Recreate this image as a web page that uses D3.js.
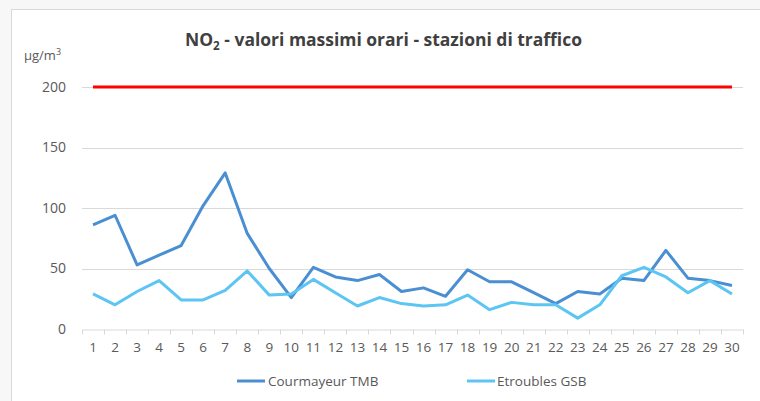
<!DOCTYPE html>
<html>
<head>
<meta charset="utf-8">
<script src="https://cdn.jsdelivr.net/npm/d3@7"></script>
<style>
  html, body { margin: 0; padding: 0; background: #f7f7f7; }
  svg { display: block; }
  text { font-family: "Open Sans", "Liberation Sans", sans-serif; }
</style>
</head>
<body>
<svg id="chart" width="760" height="401"></svg>
<script>
const days = ["1","2","3","4","5","6","7","8","9","10","11","12","13","14","15","16","17","18","19","20","21","22","23","24","25","26","27","28","29","30"];
const courmayeur = [86,94,53,61,69,102,129,79,50,26,51,43,40,45,31,34,27,49,39,39,30,21,31,29,42,40,65,42,40,36];
const etroubles = [29,20,31,40,24,24,32,48,28,29,41,30,19,26,21,19,20,28,16,22,20,20,9,20,44,51,43,30,40,29];
const limitValue = 200;
const yTicks = [0,50,100,150,200];
const seriesNames = ["Courmayeur TMB","Etroubles GSB"];
const colors = ["#4a8fd2","#5cc5f4"];

const svg = d3.select("#chart");

// chart area frame
svg.append("rect").attr("x", 11.5).attr("y", 9.5).attr("width", 760).attr("height", 400)
  .attr("fill", "#ffffff").attr("stroke", "#d9d9d9").attr("stroke-width", 1);

const x = d3.scaleBand().domain(days).range([82, 743]);
const y = d3.scaleLinear().domain([0, 200]).range([329, 87]);
const cx = d => x(d) + x.bandwidth() / 2;

// gridlines
svg.append("g").selectAll("line").data(yTicks.filter(t => t > 0)).join("line")
  .attr("x1", 82).attr("x2", 743)
  .attr("y1", d => Math.round(y(d)) + 0.5).attr("y2", d => Math.round(y(d)) + 0.5)
  .attr("stroke", "#d9d9d9").attr("stroke-width", 1);

// y axis labels
const yAxis = d3.axisLeft(y).tickValues(yTicks).tickSize(0).tickPadding(16);
const gy = svg.append("g").attr("transform", "translate(82,0)").call(yAxis);
gy.select(".domain").remove();
gy.selectAll("text").attr("font-size", 14).attr("fill", "#595959")
  .attr("font-family", "'Open Sans', sans-serif");

// x axis
const xAxis = d3.axisBottom(x).tickSize(0).tickPadding(13);
const gx = svg.append("g").attr("transform", "translate(0," + (Math.round(y(0)) + 0.5) + ")").call(xAxis);
gx.select(".domain").attr("stroke", "#d9d9d9");
gx.selectAll("text").attr("font-size", 13.5).attr("fill", "#595959")
  .attr("font-family", "'Open Sans', sans-serif");
// tick marks between categories
const bounds = days.map(d => x(d)).concat([x.range()[1]]);
gx.append("g").selectAll("line").data(bounds).join("line")
  .attr("x1", d => Math.round(d) + 0.5).attr("x2", d => Math.round(d) + 0.5)
  .attr("y1", 0).attr("y2", 5).attr("stroke", "#d9d9d9");

// limit line
svg.append("line")
  .attr("x1", cx(days[0])).attr("x2", cx(days[days.length - 1]))
  .attr("y1", y(limitValue)).attr("y2", y(limitValue))
  .attr("stroke", "#ff0000").attr("stroke-width", 3);

// series lines
const line = d3.line().x((v, i) => cx(days[i])).y(v => y(v));
[courmayeur, etroubles].forEach((s, i) => {
  svg.append("path").datum(s).attr("d", line)
    .attr("fill", "none").attr("stroke", colors[i]).attr("stroke-width", 3)
    .attr("stroke-linejoin", "round");
});

// title
const title = svg.append("text").attr("x", 185).attr("y", 46)
  .attr("font-size", 18).attr("font-weight", 700).attr("fill", "#404040");
title.append("tspan").text("NO");
title.append("tspan").attr("font-size", 12).attr("dy", 4).text("2");
title.append("tspan").attr("dy", -4).text(" - valori massimi orari - stazioni di traffico");
title.attr("textLength", 397).attr("lengthAdjust", "spacingAndGlyphs");

// unit label
const unit = svg.append("text").attr("x", 24).attr("y", 60).attr("font-size", 13).attr("fill", "#595959");
unit.append("tspan").text("µg/m");
unit.append("tspan").attr("font-size", 9).attr("dy", -5).text("3");

// legend
const legendPos = [[237, 268], [467, 497]];
seriesNames.forEach((n, i) => {
  svg.append("line").attr("x1", legendPos[i][0]).attr("x2", legendPos[i][0] + 28)
    .attr("y1", 381).attr("y2", 381).attr("stroke", colors[i]).attr("stroke-width", 3);
  svg.append("text").attr("x", legendPos[i][1]).attr("y", 386).attr("font-size", 13.5)
    .attr("fill", "#595959").text(n);
});
</script>
</body>
</html>
